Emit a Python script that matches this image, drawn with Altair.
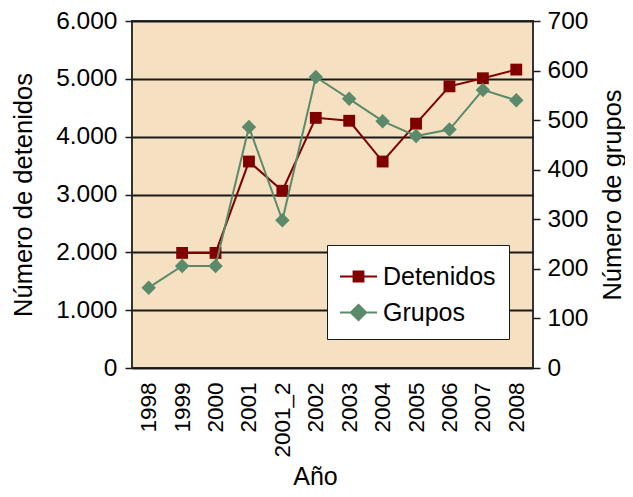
import altair as alt
import pandas as pd

years = ["1998", "1999", "2000", "2001", "2001_2", "2002", "2003",
         "2004", "2005", "2006", "2007", "2008"]
detenidos = [None, 1990, 1990, 3570, 3065, 4325, 4275, 3570, 4225, 4870, 5010, 5160]
grupos = [162, 206, 206, 486, 298, 587, 543, 498, 468, 481, 561, 540]
series = ["Detenidos", "Grupos"]
colors = ["#800000", "#5B8A6B"]
left_ticks = [0, 1000, 2000, 3000, 4000, 5000, 6000]
right_ticks = [0, 100, 200, 300, 400, 500, 600, 700]

FONT = "Liberation Sans"
BG = "#F5E0C1"
DARK = "#1A1A1A"

df = pd.DataFrame({"Año": years, "Detenidos": detenidos, "Grupos": grupos})
legend_df = pd.DataFrame({"serie": series})

x_enc = alt.X(
    "Año:O", sort=years, scale=alt.Scale(padding=0.5),
    axis=alt.Axis(title="Año", labelAngle=-90, labelAlign="right", labelBaseline="middle",
                  ticks=False, domain=False, labelPadding=14, labelFontSize=22.5,
                  titleFontSize=25, titlePadding=7, titleX=183, titleFontWeight="normal"),
)

y_left = alt.Y(
    "Detenidos:Q", scale=alt.Scale(domain=[0, 6000], nice=False),
    axis=alt.Axis(title="Número de detenidos", values=left_ticks,
                  labelExpr="replace(format(datum.value, ','), ',', '.')",
                  grid=True, gridColor=DARK, gridWidth=1.8, tickSize=7, tickColor=DARK,
                  tickWidth=1.5, labelPadding=8, labelFontSize=24.5, titleFontSize=25.5,
                  titlePadding=19, domain=False, titleFontWeight="normal"),
)

y_right = alt.Y(
    "Grupos:Q", scale=alt.Scale(domain=[0, 700], nice=False),
    axis=alt.Axis(title="Número de grupos", orient="right", values=right_ticks,
                  grid=False, tickSize=7, tickColor=DARK, tickWidth=1.5, labelPadding=7,
                  labelFontSize=24.5, titleFontSize=25.5, titlePadding=13, titleAngle=270,
                  titleBaseline="top", domain=False, titleFontWeight="normal"),
)

base = alt.Chart(df)

det_line = base.mark_line(color=colors[0], strokeWidth=2).encode(x=x_enc, y=y_left)
det_pts = base.mark_point(shape="square", filled=True, size=140, opacity=1,
                          color=colors[0]).encode(x=x_enc, y=y_left)
grp_line = base.mark_line(color=colors[1], strokeWidth=2).encode(x=x_enc, y=y_right)
grp_pts = base.mark_point(shape="diamond", filled=True, size=210, opacity=1,
                          color=colors[1]).encode(x=x_enc, y=y_right)

# legend symbols: a thin bar (the line) plus the marker, all filled
sq = ("M-1,-0.055L1,-0.055L1,0.055L-1,0.055Z"
      "M-0.32,-0.32L0.32,-0.32L0.32,0.32L-0.32,0.32Z")
dm = ("M-1,-0.055L1,-0.055L1,0.055L-1,0.055Z"
      "M-0.49,0L0,-0.49L0.49,0L0,0.49Z")

leg = alt.Legend(title=None, orient="none", legendX=195, legendY=224,
                 fillColor="white", strokeColor=DARK, padding=13,
                 symbolSize=1369, symbolStrokeWidth=0, symbolOpacity=1,
                 labelFontSize=25, labelOffset=6,
                 rowPadding=4, labelExpr="datum.label + '\u00a0'", labelColor="black")

legend_layer = alt.Chart(legend_df).mark_point(size=0, filled=True).encode(
    color=alt.Color("serie:N", scale=alt.Scale(domain=series, range=colors), legend=leg),
    shape=alt.Shape("serie:N", scale=alt.Scale(domain=series, range=[sq, dm]), legend=leg),
)

chart = alt.layer(
    alt.layer(det_line, det_pts),
    alt.layer(grp_line, grp_pts),
    legend_layer,
).resolve_scale(y="independent").properties(
    width=401, height=347,
    autosize="none",
    padding={"left": 124, "top": 13, "right": 92, "bottom": 121},
    view=alt.ViewBackground(fill=BG, stroke="#333333", strokeWidth=2),
).configure(font=FONT).configure_axis(
    labelColor="black", titleColor="black", labelFont=FONT, titleFont=FONT
).configure_legend(labelFont=FONT)

chart.save("out.html", embed_options={"renderer": "svg", "actions": False})
